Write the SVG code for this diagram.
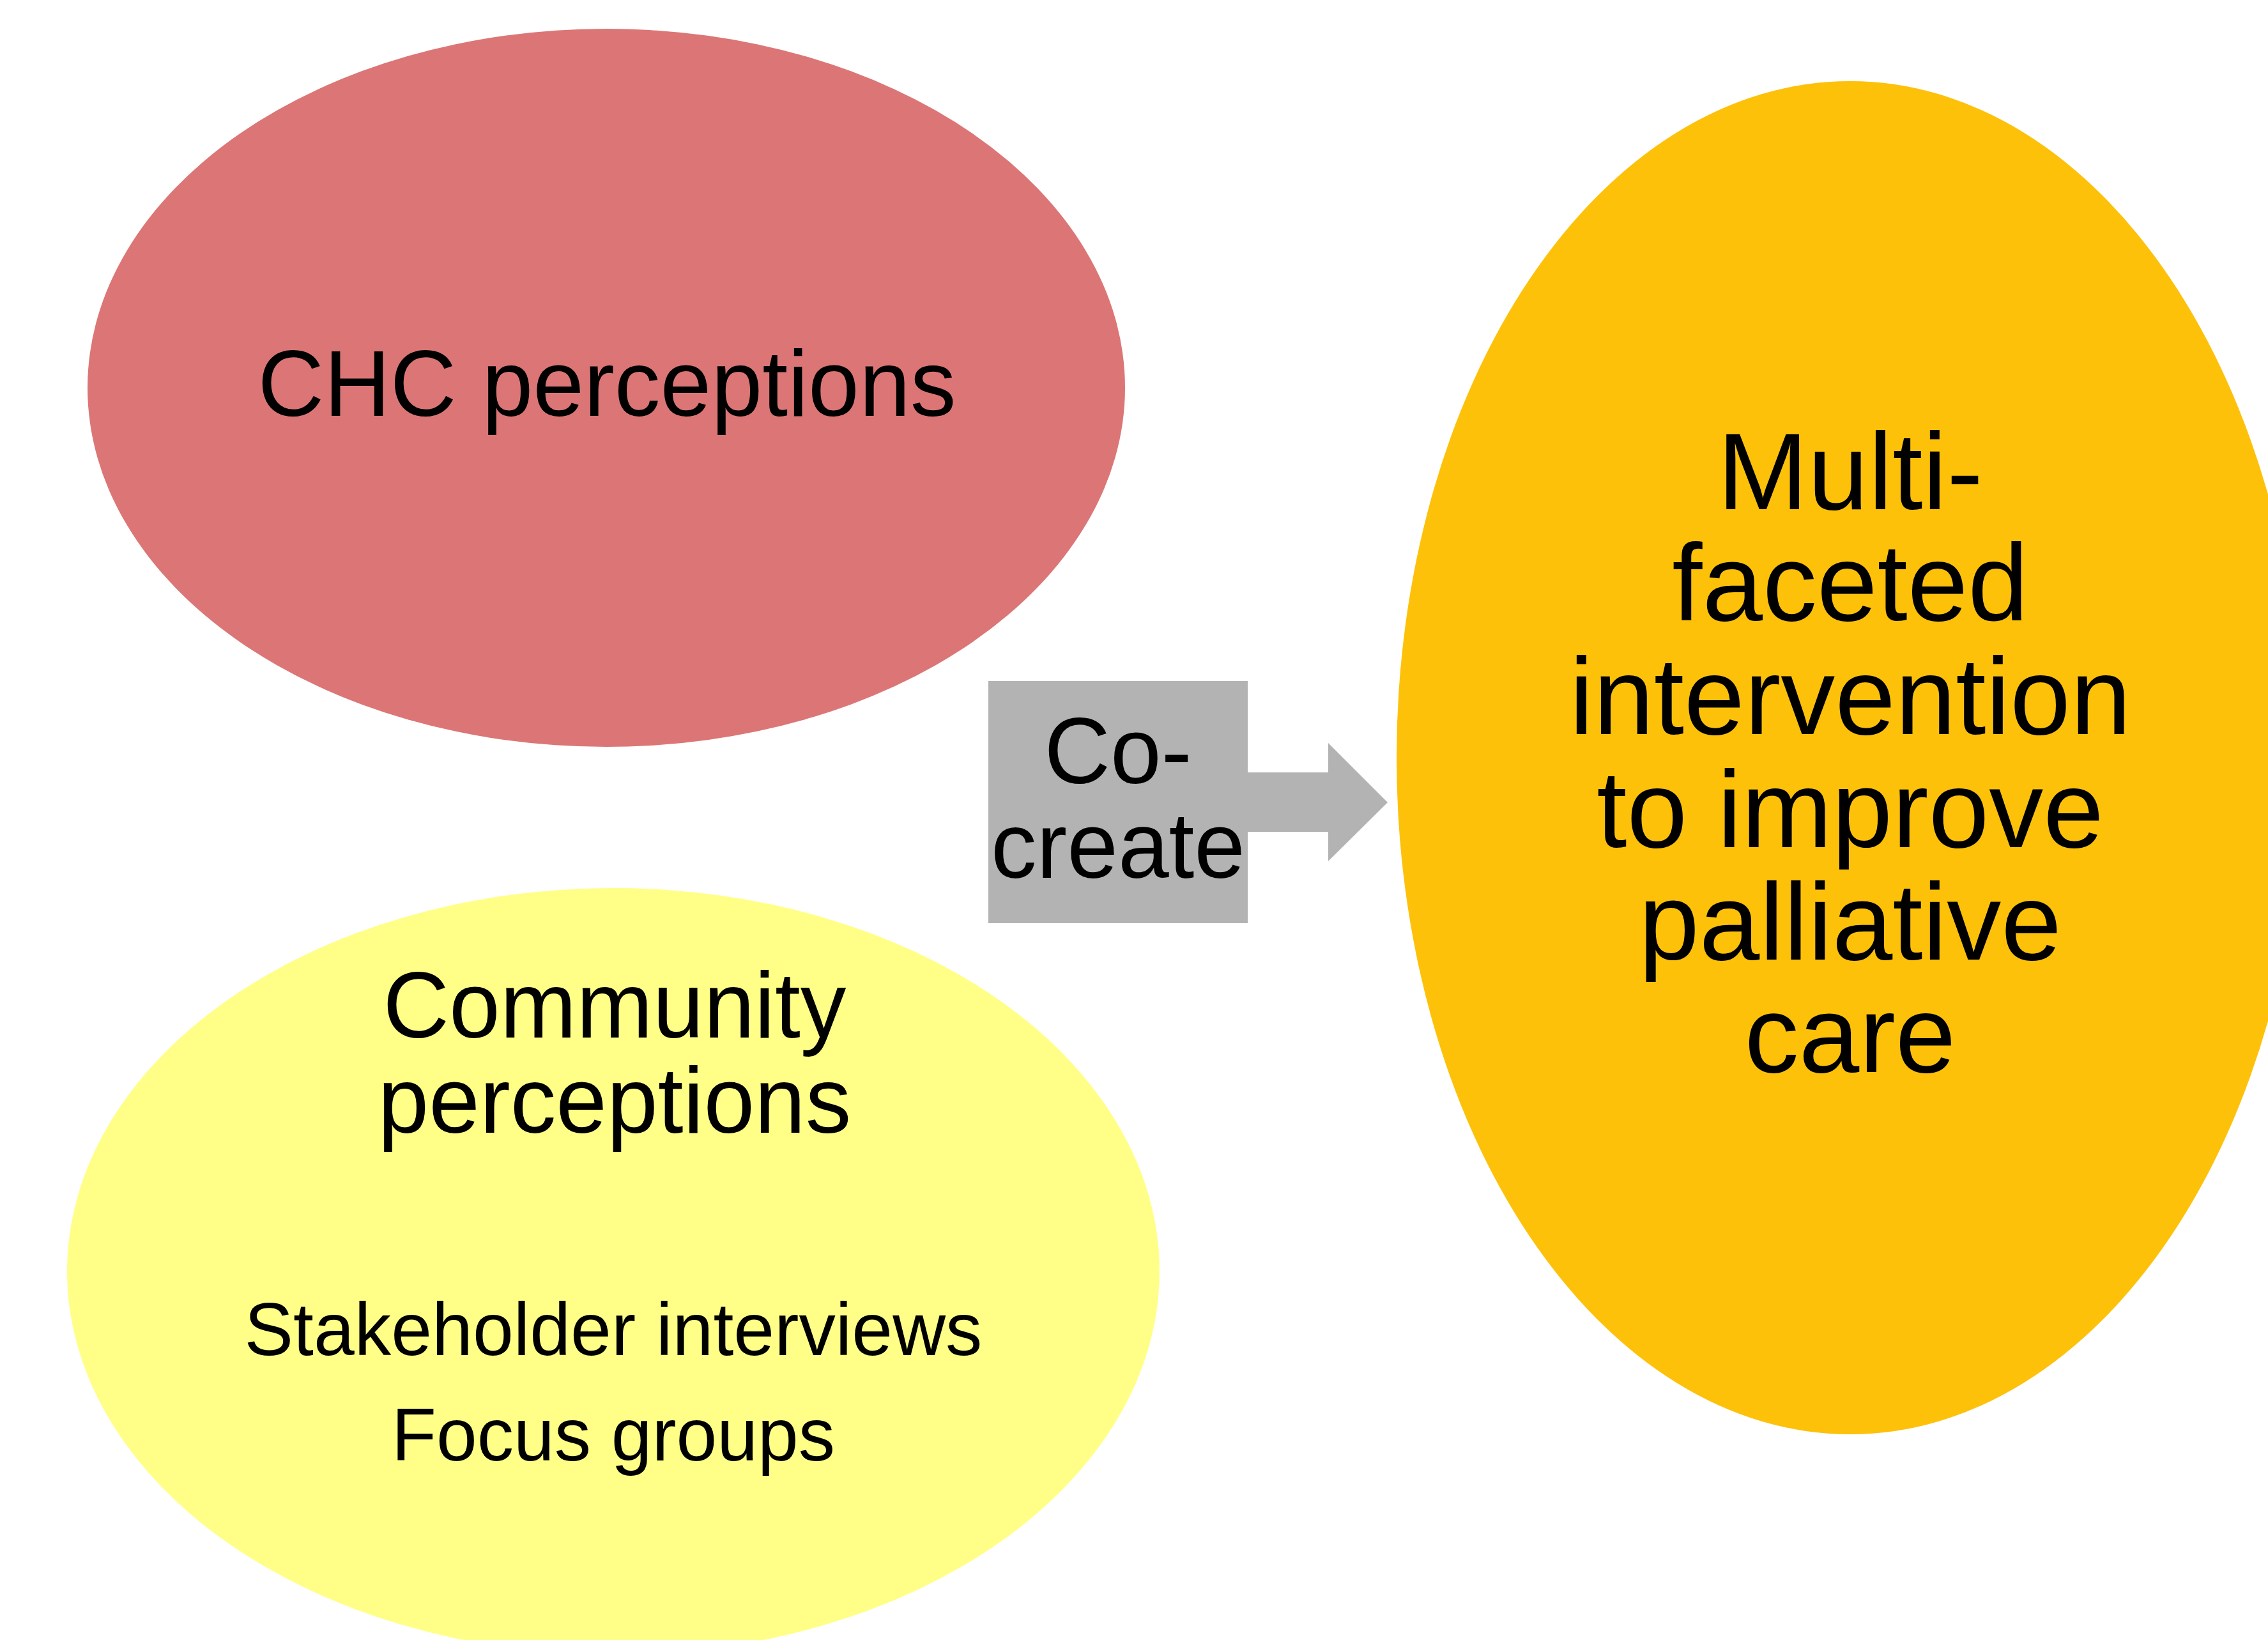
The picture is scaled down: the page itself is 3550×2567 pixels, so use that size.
<svg xmlns="http://www.w3.org/2000/svg" width="3550" height="2567" viewBox="0 0 3550 2567">
  <style>
    .label { font-family: "Liberation Sans", Arial, sans-serif; fill: #000000; text-anchor: middle; }
    .big { font-size: 147px; }
    .small { font-size: 116px; }
    .goal { font-size: 170px; }
  </style>
  <rect width="3550" height="2567" fill="#ffffff"/>

  <!-- block arrow leaving the co-create box -->
  <g id="connectors">
    <polygon points="1900,1209 2079,1209 2079,1163 2172,1256 2079,1348 2079,1302 1900,1302" fill="#b3b3b3"/>
  </g>

  <g id="chc-perceptions">
    <ellipse cx="949" cy="607" rx="812" ry="562" fill="#dc7676"/>
    <text class="label big" x="950" y="651" textLength="1093" lengthAdjust="spacingAndGlyphs">CHC perceptions</text>
  </g>

  <g id="community-perceptions">
    <ellipse cx="960" cy="1990" rx="855" ry="600" fill="#ffff88"/>
    <text class="label big" x="962" y="1624" textLength="725" lengthAdjust="spacingAndGlyphs">Community</text>
    <text class="label big" x="962" y="1773" textLength="741" lengthAdjust="spacingAndGlyphs">perceptions</text>
    <text class="label small" x="960" y="2121" textLength="1155" lengthAdjust="spacingAndGlyphs">Stakeholder interviews</text>
    <text class="label small" x="960" y="2286" textLength="694" lengthAdjust="spacingAndGlyphs">Focus groups</text>
  </g>

  <g id="co-create">
    <rect x="1547" y="1066" width="406" height="379" fill="#b3b3b3"/>
    <text class="label big" x="1750" y="1226" textLength="231" lengthAdjust="spacingAndGlyphs">Co-</text>
    <text class="label big" x="1750" y="1374" textLength="398" lengthAdjust="spacingAndGlyphs">create</text>
  </g>

  <g id="intervention">
    <ellipse cx="2896" cy="1186" rx="710" ry="1059" fill="#fdc10a"/>
    <text class="label goal" x="2896" y="797">Multi-</text>
    <text class="label goal" x="2896" y="971">faceted</text>
    <text class="label goal" x="2896" y="1149">intervention</text>
    <text class="label goal" x="2896" y="1326">to improve</text>
    <text class="label goal" x="2896" y="1502">palliative</text>
    <text class="label goal" x="2896" y="1678">care</text>
  </g>
</svg>
